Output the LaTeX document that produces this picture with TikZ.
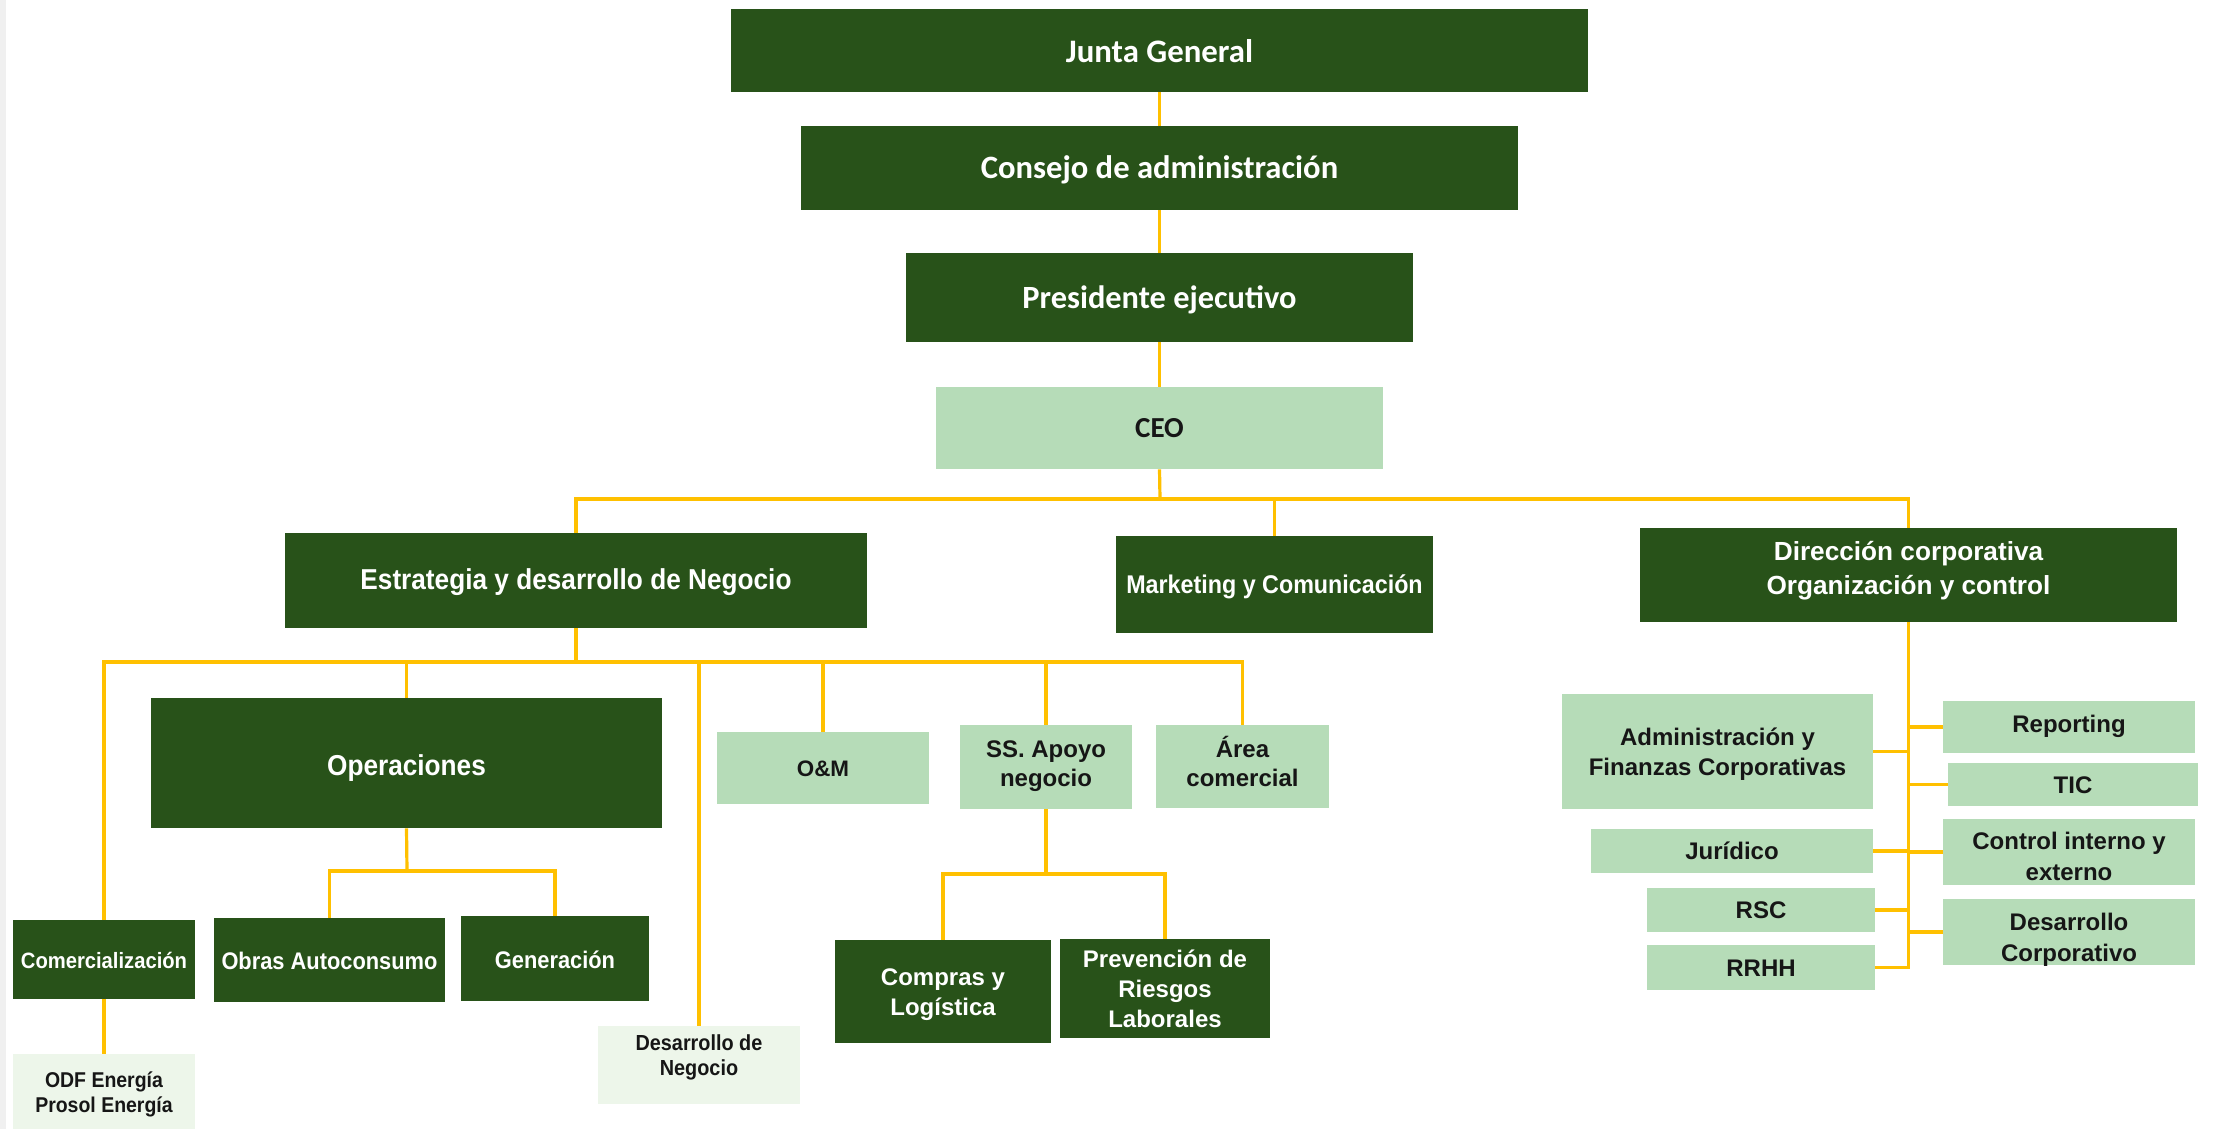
\documentclass[tikz,border=0pt]{standalone}
\usepackage{fontspec}
\setmainfont{Liberation Sans}
\newfontfamily\fcal{Carlito}
\newfontfamily\fcond[FakeStretch=0.91]{Liberation Sans}
\definecolor{dkgreen}{HTML}{285219}
\definecolor{ltgreen}{HTML}{B6DCB8}
\definecolor{palegreen}{HTML}{EDF6EA}
\definecolor{lineyellow}{HTML}{FFC000}
\definecolor{txtdark}{HTML}{161616}
\tikzset{
  box/.style={inner sep=0pt, draw=none},
  dk/.style={box, fill=dkgreen, text=white},
  lt/.style={box, fill=ltgreen, text=txtdark},
  pale/.style={box, fill=palegreen, text=txtdark},
  calf/.style 2 args={font=\fcal\bfseries\fontsize{#1}{#2}\selectfont},
  condf/.style 2 args={font=\fcond\bfseries\fontsize{#1}{#2}\selectfont},
  normf/.style 2 args={font=\bfseries\fontsize{#1}{#2}\selectfont},
  conn/.style={draw=lineyellow, line width=1.6pt}
}
% name, x1, y1, x2, y2 (pixels), style, text height (pt), text
\newcommand\bx[8]{\node[#6, minimum width={(#4-#2)*0.5pt}, minimum height={(#5-#3)*0.5pt}, text height=#7pt, text depth=0pt] (#1) at ({(#2+#4)/2},{-(#3+#5)/2}) {\begin{tabular}[b]{@{}c@{}}#8\end{tabular}};}
\begin{document}
\begin{tikzpicture}[x=0.5pt,y=0.5pt]
\useasboundingbox (0,0) rectangle (2231,-1129);
\fill[white] (0,0) rectangle (2231,-1129);
\fill[black!6] (0,0) rectangle (6,-1129);
% top chain
\bx{junta}{731}{9}{1588}{92}{dk,calf={16.4}{19.5}}{12.0}{Junta General}
\bx{consejo}{801}{126}{1518}{210}{dk,calf={16.3}{19.5}}{10.8}{Consejo de administración}
\bx{pres}{906}{253}{1413}{342}{dk,calf={16.2}{19.5}}{11.4}{Presidente ejecutivo}
\bx{ceo}{936}{387}{1383}{469}{lt,calf={14.5}{17}}{9.3}{CEO}
% second level
\bx{est}{285}{533}{867}{628}{dk,condf={14.4}{17}}{9.2}{Estrategia y desarrollo de Negocio}
\bx{mkt}{1116}{536}{1433}{633}{dk,condf={12.8}{15}}{9.2}{Marketing y Comunicación}
\bx{dir}{1640}{528}{2177}{622}{dk,normf={13.1}{17}}{19.8}{Dirección corporativa\\Organización y control}
% under Estrategia
\bx{ope}{151}{698}{662}{828}{dk,condf={14.4}{17}}{12.9}{Operaciones}
\bx{om}{717}{732}{929}{804}{lt,normf={11.2}{14}}{8.0}{O\&M}
\bx{ss}{960}{725}{1132}{809}{lt,normf={12}{14.9}}{19.8}{SS. Apoyo\\negocio}
\bx{area}{1156}{725}{1329}{808}{lt,normf={12}{14.9}}{20.3}{Área\\comercial}
\bx{com}{13}{920}{195}{999}{dk,condf={11.1}{13}}{8.5}{Comercialización}
\bx{obras}{214}{918}{445}{1002}{dk,condf={12}{14}}{9.6}{Obras Autoconsumo}
\bx{gen}{461}{916}{649}{1001}{dk,condf={12}{14}}{9.6}{Generación}
\bx{odf}{13}{1054}{195}{1129}{pale,condf={10.7}{12.4}}{21.0}{ODF Energía\\Prosol Energía}
\bx{desn}{598}{1026}{800}{1104}{pale,condf={10.9}{12.8}}{10.9}{Desarrollo de\\Negocio}
\bx{compras}{835}{940}{1051}{1043}{dk,normf={12}{15.1}}{24.4}{Compras y\\Logística}
\bx{prev}{1060}{939}{1270}{1038}{dk,normf={12}{15}}{39.2}{Prevención de\\Riesgos\\Laborales}
% under Direccion
\bx{admin}{1562}{694}{1873}{809}{lt,normf={12}{15.1}}{23.7}{Administración y\\Finanzas Corporativas}
\bx{jur}{1591}{829}{1873}{873}{lt,normf={12}{15}}{8.6}{Jurídico}
\bx{rsc}{1647}{888}{1875}{932}{lt,normf={12}{15}}{8.6}{RSC}
\bx{rrhh}{1647}{945}{1875}{990}{lt,normf={12}{15}}{9.3}{RRHH}
\bx{rep}{1943}{701}{2195}{753}{lt,normf={12}{15}}{5.8}{Reporting}
\bx{tic}{1948}{763}{2198}{806}{lt,normf={12}{15}}{9.4}{TIC}
\bx{ctrl}{1943}{819}{2195}{885}{lt,normf={12}{15.1}}{28.0}{Control interno y\\externo}
\bx{dcorp}{1943}{899}{2195}{965}{lt,normf={12}{15.1}}{29.1}{Desarrollo\\Corporativo}
% junction coordinates
\coordinate (ceoj) at (1160,-499);
\coordinate (estj) at (576,-662);
\coordinate (opej) at (407,-871);
\coordinate (ssj) at (1046,-874);
% connectors
\draw[conn] (junta.south) -- (consejo.north);
\draw[conn] (consejo.south) -- (pres.north);
\draw[conn] (pres.south) -- (ceo.north);
\draw[conn] (ceo.south) -- (ceoj);
\draw[conn] (est.north) |- (ceoj);
\draw[conn] (mkt.north) |- (ceoj);
\draw[conn] (dir.north) |- (ceoj);
\draw[conn] (est.south) -- (estj);
\draw[conn] (com.north) |- (estj);
\draw[conn] (ope.north) |- (estj);
\draw[conn] (desn.north) |- (estj);
\draw[conn] (om.north) |- (estj);
\draw[conn] (ss.north) |- (estj);
\draw[conn] (area.north) |- (estj);
\draw[conn] (ope.south) -- (opej);
\draw[conn] (obras.north) |- (opej);
\draw[conn] (gen.north) |- (opej);
\draw[conn] (com.south) -- (odf.north);
\draw[conn] (ss.south) -- (ssj);
\draw[conn] (compras.north) |- (ssj);
\draw[conn] (prev.north) |- (ssj);
\draw[conn] (dir.south) -- (dir.south |- rrhh.east) -- (rrhh.east);
\draw[conn] (admin.east) -- (admin.east -| dir.south);
\draw[conn] (jur.east) -- (jur.east -| dir.south);
\draw[conn] (rsc.east) -- (rsc.east -| dir.south);
\draw[conn] (rep.west) -- (rep.west -| dir.south);
\draw[conn] (tic.west) -- (tic.west -| dir.south);
\draw[conn] (ctrl.west) -- (ctrl.west -| dir.south);
\draw[conn] (dcorp.west) -- (dcorp.west -| dir.south);
\end{tikzpicture}
\end{document}
